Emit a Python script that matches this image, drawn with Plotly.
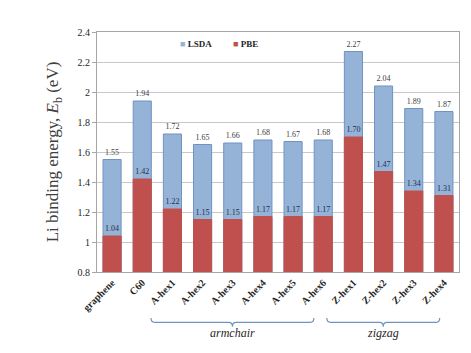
import plotly.graph_objects as go

categories = ["graphene", "C60", "A-hex1", "A-hex2", "A-hex3", "A-hex4", "A-hex5", "A-hex6",
              "Z-hex1", "Z-hex2", "Z-hex3", "Z-hex4"]
lsda = [1.55, 1.94, 1.72, 1.65, 1.66, 1.68, 1.67, 1.68, 2.27, 2.04, 1.89, 1.87]
pbe = [1.04, 1.42, 1.22, 1.15, 1.15, 1.17, 1.17, 1.17, 1.70, 1.47, 1.34, 1.31]
y_ticks = [0.8, 1, 1.2, 1.4, 1.6, 1.8, 2, 2.2, 2.4]
groups = [("armchair", 1.29, 6.69), ("zigzag", 7.12, 10.86)]

SERIF = "Liberation Serif"
BLUE, BLUE_EDGE, RED = "#95b3d7", "#6f93c4", "#c0504d"
fig = go.Figure()
fig.add_trace(go.Bar(
    x=categories, y=lsda, name="LSDA",
    marker=dict(color=BLUE, line=dict(color=BLUE_EDGE, width=1)),
    text=lsda, texttemplate="%{y:.2f}", textposition="outside", constraintext="none",
    textfont=dict(family=SERIF, size=8, color="#404040"), cliponaxis=False,
))
fig.add_trace(go.Bar(
    x=categories, y=pbe, name="PBE",
    marker=dict(color=RED, line=dict(color=RED, width=1)),
    text=pbe, texttemplate="%{y:.2f}", textposition="outside", constraintext="none",
    textfont=dict(family=SERIF, size=8, color="#1f2d4d"), cliponaxis=False,
))

shapes = []
annotations = []
yt, yl, ym = -0.192, -0.21, -0.228
for label, x0, x1 in groups:
    xm = (x0 + x1) / 2
    d = 0.12
    path = (f"M {x0},{yt} Q {x0},{yl} {x0+d},{yl} L {xm-d},{yl} Q {xm},{yl} {xm},{ym} "
            f"Q {xm},{yl} {xm+d},{yl} L {x1-d},{yl} Q {x1},{yl} {x1},{yt}")
    shapes.append(dict(type="path", path=path, xref="x", yref="paper",
                       line=dict(color=BLUE_EDGE, width=1.2)))
    annotations.append(dict(text=f"<i>{label}</i>", x=xm, y=-0.29, xref="x", yref="paper",
                            showarrow=False, font=dict(family=SERIF, size=12, color="#262626")))

# legend drawn as annotations (small squares as in the reference)
for name, color, xpos in [("LSDA", BLUE, 0.225), ("PBE", RED, 0.37)]:
    annotations.append(dict(
        text=f"<span style='color:{color}'>■</span> <b>{name}</b>",
        x=xpos, y=0.95, xref="paper", yref="paper", xanchor="left", yanchor="middle",
        showarrow=False, font=dict(family=SERIF, size=9, color="#262626")))

fig.update_layout(
    width=471, height=353,
    margin=dict(l=89, r=20, t=24, b=89, autoexpand=False),
    barmode="overlay", bargap=0.4,
    plot_bgcolor="white", paper_bgcolor="white",
    font=dict(family=SERIF, color="#262626"),
    shapes=shapes, annotations=annotations,
    showlegend=False,
)
fig.update_xaxes(
    tickangle=-45, tickfont=dict(family=SERIF, size=10, color="#262626"),
    showline=True, linecolor="#a6a6a6", mirror=True, ticks="",
    tickprefix="<b>", ticksuffix="</b>", automargin=False,
)
fig.update_yaxes(
    range=[0.8, 2.4], tickvals=y_ticks, ticktext=[f"{v:g}" for v in y_ticks],
    tickfont=dict(family=SERIF, size=10, color="#262626"),
    showgrid=True, gridcolor="#c8c8c8", gridwidth=1,
    showline=True, linecolor="#a6a6a6", mirror=True, zeroline=False,
    ticks="outside", ticklen=4, tickcolor="#a6a6a6", automargin=False,
    title=dict(text="Li binding energy, <i>E</i><sub>b</sub> (eV)",
               font=dict(family=SERIF, size=17, color="#404040"), standoff=14),
)
fig.write_html("out.html")
